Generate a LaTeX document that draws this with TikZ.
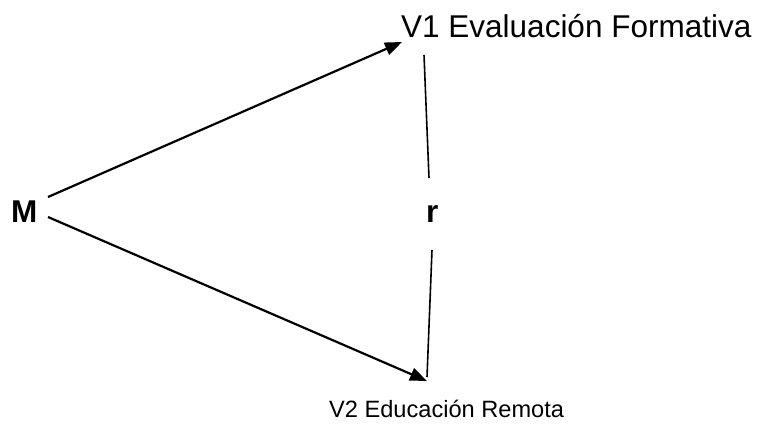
\documentclass[tikz,border=0pt]{standalone}
\usepackage{fontspec}
\setmainfont{Liberation Sans}
\usetikzlibrary{arrows.meta}
\begin{document}
\begin{tikzpicture}[x=1pt,y=-1pt,
  lbl/.style={inner sep=0pt,anchor=base west,font=\fontsize{31.5}{36}\selectfont},
  small/.style={inner sep=0pt,anchor=base west,font=\fontsize{23.6}{27}\selectfont},
  arr/.style={line width=2.2pt,-{Triangle[length=17pt,width=13pt]}},
  rel/.style={line width=1.6pt}]
\useasboundingbox (0,0) rectangle (760,423);
\node[lbl] (V1) at (401,37) {V1 Evaluación Formativa};
\node[lbl,font=\fontsize{31.5}{36}\selectfont\bfseries] (M) at (11,222) {M};
\node[lbl,font=\fontsize{31.5}{36}\selectfont\bfseries] (r) at (426,222) {r};
\node[small] (V2) at (329,417) {V2 Educación Remota};
\coordinate (m1) at (48,197);
\coordinate (m2) at (48,217);
\coordinate (t1) at (402,42);
\coordinate (t2) at (427,381);
\coordinate (a1) at (424,55);
\coordinate (a2) at (429,178);
\coordinate (b1) at (432,250);
\coordinate (b2) at (427,377);
\draw[arr] (m1) -- (t1);
\draw[arr] (m2) -- (t2);
\draw[rel] (a1) -- (a2);
\draw[rel] (b1) -- (b2);
\end{tikzpicture}
\end{document}
